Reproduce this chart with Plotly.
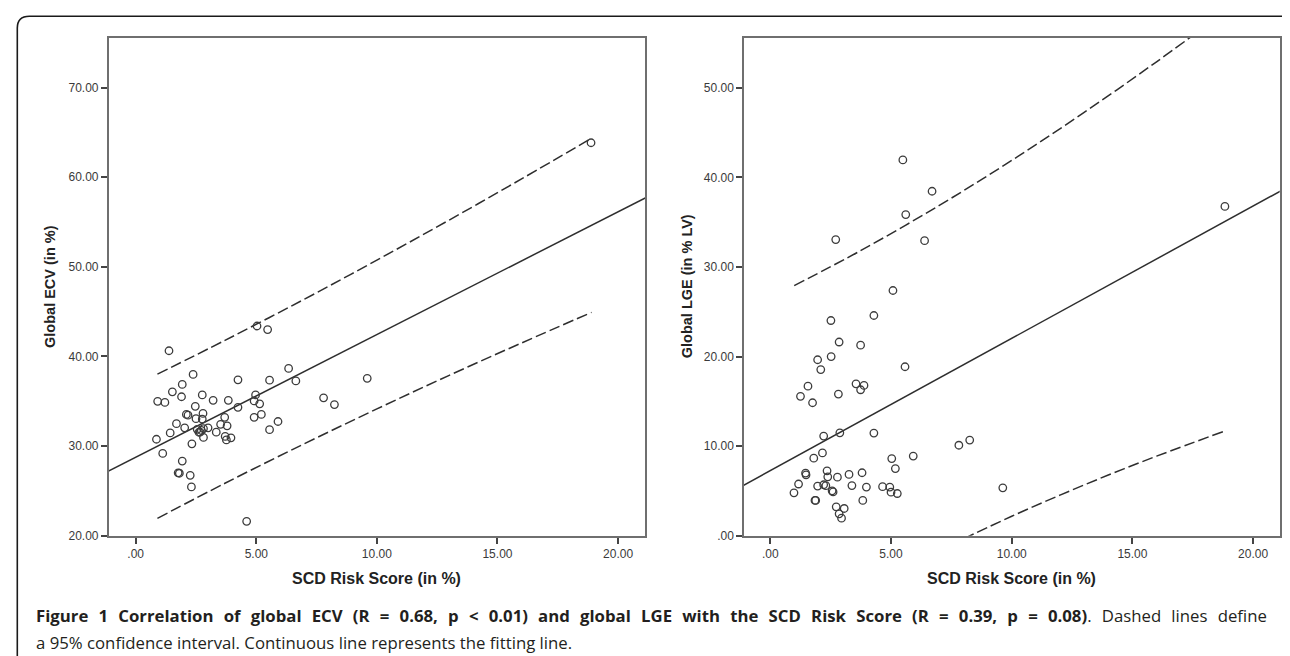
import plotly.graph_objects as go

# ---------------- data ----------------
ecv_risk = [18.88, 5.03, 5.47, 1.38, 2.38, 6.34, 1.93, 4.24, 5.55, 6.64, 9.60, 1.52, 1.90, 2.76, 4.97,
            0.91, 1.21, 3.21, 3.84, 4.91, 5.14, 7.79, 8.24, 2.47, 4.24, 2.10, 2.17, 2.79, 5.21, 3.69,
            4.91, 2.50, 2.76, 1.69, 5.90, 3.52, 3.79, 1.43, 2.03, 2.55, 2.81, 3.00, 2.67, 3.34, 5.55,
            3.71, 3.95, 2.81, 3.76, 0.86, 2.33, 1.12, 1.93, 1.76, 1.81, 2.26, 2.31, 4.60, 2.72, 2.62]
ecv = [63.84, 43.40, 43.00, 40.64, 38.00, 38.67, 36.89, 37.40, 37.36, 37.28, 37.56, 36.06, 35.51, 35.71, 35.71,
       35.00, 34.88, 35.11, 35.11, 35.04, 34.72, 35.39, 34.64, 34.44, 34.33, 33.54, 33.46, 33.65, 33.54, 33.22,
       33.22, 33.06, 33.02, 32.51, 32.75, 32.43, 32.27, 31.48, 32.04, 31.88, 31.96, 32.04, 31.56, 31.56, 31.84,
       31.09, 30.93, 30.97, 30.69, 30.77, 30.26, 29.19, 28.33, 27.02, 26.98, 26.75, 25.45, 21.62, 31.75, 31.55]

lge_risk = [5.49, 6.70, 18.83, 5.61, 2.71, 6.39, 5.08, 4.29, 2.51, 2.85, 3.74, 1.96, 2.52, 2.09, 5.58,
            1.56, 3.55, 3.88, 3.74, 1.25, 1.75, 2.82, 2.21, 2.88, 4.29, 7.81, 8.26, 2.16, 1.80, 5.03,
            5.92, 5.18, 1.46, 1.48, 2.35, 2.38, 2.78, 3.26, 3.80, 1.17, 0.98, 1.96, 2.21, 2.30, 2.56,
            2.60, 3.38, 3.98, 4.65, 4.95, 5.00, 5.26, 9.63, 1.85, 1.88, 3.83, 2.73, 3.06, 2.85, 2.95]
lge = [41.96, 38.46, 36.76, 35.86, 33.06, 32.94, 27.38, 24.59, 24.03, 21.63, 21.28, 19.65, 20.01, 18.55, 18.87,
       16.70, 16.96, 16.78, 16.30, 15.57, 14.85, 15.82, 11.13, 11.50, 11.47, 10.11, 10.68, 9.25, 8.66, 8.62,
       8.90, 7.50, 7.00, 6.81, 7.25, 6.58, 6.54, 6.85, 7.04, 5.78, 4.80, 5.55, 5.70, 5.60, 5.02,
       4.90, 5.61, 5.44, 5.48, 5.44, 4.87, 4.72, 5.36, 3.95, 3.95, 3.95, 3.23, 3.05, 2.45, 1.97]

# fitted lines (intercept, slope)
ecv_fit_intercept, ecv_fit_slope = 28.76, 1.369
lge_fit_intercept, lge_fit_slope = 7.27, 1.477
fit_x = [-1.15, 21.15]

# 95% confidence bands
ecv_ci_x = [0.9, 3.7, 7.0, 10.0, 13.0, 16.0, 18.9]
ecv_ci_upper = [38.03, 41.80, 46.40, 50.75, 55.22, 59.81, 64.34]
ecv_ci_lower = [21.95, 25.86, 30.28, 34.15, 37.90, 41.51, 44.92]

lge_ci_upper_x = [0.99, 3.7, 7.0, 10.0, 13.0, 16.0, 18.86]
lge_ci_upper = [27.93, 31.77, 36.88, 41.90, 47.26, 52.91, 58.53]
lge_ci_lower_x = [8.0, 10.0, 12.0, 14.0, 16.0, 18.86]
lge_ci_lower = [-0.34, 2.18, 4.54, 6.78, 8.89, 11.73]

x_ticks = [0, 5, 10, 15, 20]
x_ticktext = [".00", "5.00", "10.00", "15.00", "20.00"]
ecv_ticks = [20, 30, 40, 50, 60, 70]
ecv_ticktext = ["20.00", "30.00", "40.00", "50.00", "60.00", "70.00"]
lge_ticks = [0, 10, 20, 30, 40, 50]
lge_ticktext = [".00", "10.00", "20.00", "30.00", "40.00", "50.00"]

x_title = "SCD Risk Score (in %)"
ecv_title = "Global ECV (in %)"
lge_title = "Global LGE (in % LV)"
caption1_bold = ("Figure 1 Correlation of global ECV (R = 0.68, p &lt; 0.01) and global LGE with the SCD Risk Score "
                 "(R = 0.39, p = 0.08)")
caption1_rest = ". Dashed lines define"
caption2 = "a 95% confidence interval. Continuous line represents the fitting line."

# ---------------- figure ----------------
W, H = 1290, 656
fig = go.Figure()

marker = dict(symbol="circle-open", size=7.5, color="#3c3c3c", line=dict(width=1.3, color="#3c3c3c"))
solid = dict(color="#2e2e2e", width=1.5)
dashed = dict(color="#2e2e2e", width=1.5, dash="11px,4px")

# left panel
fig.add_trace(go.Scatter(x=fit_x, y=[ecv_fit_intercept + ecv_fit_slope * v for v in fit_x],
                         mode="lines", line=solid, xaxis="x", yaxis="y", hoverinfo="skip"))
fig.add_trace(go.Scatter(x=ecv_ci_x, y=ecv_ci_upper, mode="lines", line=dict(dashed, shape="spline"),
                         xaxis="x", yaxis="y"))
fig.add_trace(go.Scatter(x=ecv_ci_x, y=ecv_ci_lower, mode="lines", line=dict(dashed, shape="spline"),
                         xaxis="x", yaxis="y"))
fig.add_trace(go.Scatter(x=ecv_risk, y=ecv, mode="markers", marker=marker, xaxis="x", yaxis="y"))

# right panel
fig.add_trace(go.Scatter(x=fit_x, y=[lge_fit_intercept + lge_fit_slope * v for v in fit_x],
                         mode="lines", line=solid, xaxis="x2", yaxis="y2", hoverinfo="skip"))
fig.add_trace(go.Scatter(x=lge_ci_upper_x, y=lge_ci_upper, mode="lines", line=dict(dashed, shape="spline"),
                         xaxis="x2", yaxis="y2"))
fig.add_trace(go.Scatter(x=lge_ci_lower_x, y=lge_ci_lower, mode="lines", line=dict(dashed, shape="spline"),
                         xaxis="x2", yaxis="y2"))
fig.add_trace(go.Scatter(x=lge_risk, y=lge, mode="markers", marker=marker, xaxis="x2", yaxis="y2"))

# panel geometry (pixels)
L1, R1 = 100.7, 637.3
L2, R2 = 736.0, 1271.7
TOP, BOT = 30.0, 533.5

def px(xp):
    return xp / W

def py(yp):
    return 1 - yp / H

tickfont = dict(family="Liberation Sans, Arial, sans-serif", size=12, color="#3a3a3a")
axis_common = dict(showline=True, mirror=True, linecolor="#6f6f6f", linewidth=1.5,
                   ticks="outside", ticklen=6, tickwidth=1.5, tickcolor="#444444",
                   showgrid=False, zeroline=False, tickfont=tickfont, fixedrange=True)

fig.update_layout(
    width=W, height=H,
    margin=dict(l=0, r=0, t=0, b=0),
    paper_bgcolor="white", plot_bgcolor="white",
    showlegend=False,
    xaxis=dict(axis_common, domain=[px(L1), px(R1)], range=[-1.12, 21.13],
               tickvals=x_ticks, ticktext=x_ticktext, anchor="y"),
    yaxis=dict(axis_common, domain=[py(BOT), py(TOP)], range=[20, 75.56],
               tickvals=ecv_ticks, ticktext=ecv_ticktext, anchor="x"),
    xaxis2=dict(axis_common, domain=[px(L2), px(R2)], range=[-1.09, 21.1],
                tickvals=x_ticks, ticktext=x_ticktext, anchor="y2"),
    yaxis2=dict(axis_common, domain=[py(BOT), py(TOP)], range=[0, 55.6],
                tickvals=lge_ticks, ticktext=lge_ticktext, anchor="x2"),
)

ytitlefont = dict(family="Liberation Sans, Arial, sans-serif", size=14.5, color="#222222")
xtitlefont = dict(family="Liberation Sans, Arial, sans-serif", size=16, color="#222222")
ann = []
ann.append(dict(text="<b>%s</b>" % ecv_title, x=px(L1 - 58.5), y=py((TOP + BOT) / 2), textangle=-90,
                xref="paper", yref="paper", showarrow=False, font=ytitlefont, xanchor="center", yanchor="middle"))
ann.append(dict(text="<b>%s</b>" % lge_title, x=px(L2 - 57.5), y=py((TOP + BOT) / 2), textangle=-90,
                xref="paper", yref="paper", showarrow=False, font=ytitlefont, xanchor="center", yanchor="middle"))
ann.append(dict(text="<b>%s</b>" % x_title, x=px((L1 + R1) / 2), y=py(577), xref="paper", yref="paper",
                showarrow=False, font=xtitlefont, xanchor="center", yanchor="middle"))
ann.append(dict(text="<b>%s</b>" % x_title, x=px((L2 + R2) / 2), y=py(577), xref="paper", yref="paper",
                showarrow=False, font=xtitlefont, xanchor="center", yanchor="middle"))

# justified first caption line: widen the word gaps
gap = " \u2005\u200a"
caption1 = "<b>%s</b>%s" % (caption1_bold.replace(" ", gap), caption1_rest.replace(" ", gap))
capfont1 = dict(family="Open Sans, sans-serif", size=16.75, color="#231f20")
capfont2 = dict(family="Open Sans, sans-serif", size=16.75, color="#231f20")
ann.append(dict(text=caption1, x=px(26), y=py(614), xref="paper", yref="paper", showarrow=False,
                font=capfont1, xanchor="left", yanchor="middle"))
ann.append(dict(text=caption2, x=px(26), y=py(641), xref="paper", yref="paper", showarrow=False,
                font=capfont2, xanchor="left", yanchor="middle"))
fig.update_layout(annotations=ann)

# outer rounded frame
bx0, by0, bx1 = 9.3, 8.3, 1288.5
r = 12
path = "M {a},{b} L {a},{c} Q {a},{d} {e},{d} L {f},{d} Q {g},{d} {g},{c} L {g},{b}".format(
    a=px(bx0), b=py(H + 5), c=py(by0 + r), d=py(by0), e=px(bx0 + r), f=px(bx1 - r), g=px(bx1))
fig.add_shape(type="path", path=path, xref="paper", yref="paper",
              line=dict(color="#1a1a1a", width=1.6), layer="above")

fig.write_html("out.html")
